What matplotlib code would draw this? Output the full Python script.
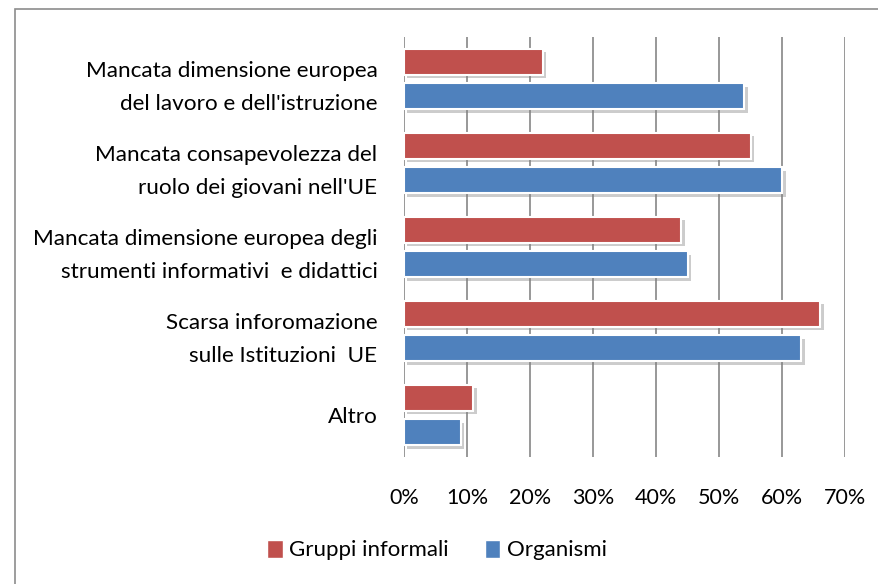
import matplotlib
matplotlib.use("Agg")
import matplotlib.pyplot as plt
import matplotlib.patheffects as pe
from matplotlib.patches import Patch, Rectangle
import numpy as np

categories = [
    "Mancata dimensione europea\ndel lavoro e dell'istruzione",
    "Mancata consapevolezza del\nruolo dei giovani nell'UE",
    "Mancata dimensione europea degli\nstrumenti informativi  e didattici",
    "Scarsa inforomazione\nsulle Istituzioni  UE",
    "Altro",
]
series_names = ["Gruppi informali", "Organismi"]
gruppi = [22, 55, 44, 66, 11]
organismi = [54, 60, 45, 63, 9]
xticks = [0, 10, 20, 30, 40, 50, 60, 70]
xticklabels = ["0%", "10%", "20%", "30%", "40%", "50%", "60%", "70%"]

red = "#C0504D"
blue = "#4F81BD"

plt.rcParams['font.family'] = ['Lato', 'DejaVu Sans']

fig = plt.figure(figsize=(8.79, 5.84), dpi=100)
fig.patch.set_facecolor("white")
# outer chart frame
fig.add_artist(Rectangle((15/879, -0.1), 1.1, 1 - 9/584 + 0.1, transform=fig.transFigure,
                         fill=False, edgecolor="#8c8c8c", linewidth=1.2))

ax = fig.add_axes([404/879, 1 - 457/584, (845.3 - 404)/879, (457 - 37)/584])

y = np.arange(len(categories))
h = 0.31
off = 0.208
shadow = [pe.SimplePatchShadow(offset=(2.5, -2.5), shadow_rgbFace="#808080", alpha=0.4), pe.Normal()]
b1 = ax.barh(y - off, gruppi, height=h, color=red, edgecolor="white", linewidth=1.5, zorder=3)
b2 = ax.barh(y + off, organismi, height=h, color=blue, edgecolor="white", linewidth=1.5, zorder=3)
for b in list(b1) + list(b2):
    b.set_path_effects(shadow)

ax.set_xlim(0, 70)
ax.set_ylim(len(categories) - 0.5, -0.5)
ax.set_xticks(xticks)
ax.set_xticklabels(xticklabels, fontsize=15.5)
ax.set_yticks(y)
ax.set_yticklabels(categories, fontsize=16.2, ha="right", linespacing=1.8)
ax.tick_params(axis="x", length=0, pad=22)
ax.tick_params(axis="y", length=0, pad=19)
ax.grid(axis="x", color="#868686", linewidth=1.2, zorder=0)
ax.set_axisbelow(True)
for s in ax.spines.values():
    s.set_visible(False)

handles = [Patch(facecolor=red, edgecolor="white"), Patch(facecolor=blue, edgecolor="white")]
fig.legend(handles, series_names, loc="center", bbox_to_anchor=(437/879, 1 - 550/584),
           ncol=2, frameon=False, fontsize=16, handlelength=0.7, handleheight=0.9,
           handletextpad=0.3, columnspacing=1.6)

fig.savefig("out.png", dpi=100)
